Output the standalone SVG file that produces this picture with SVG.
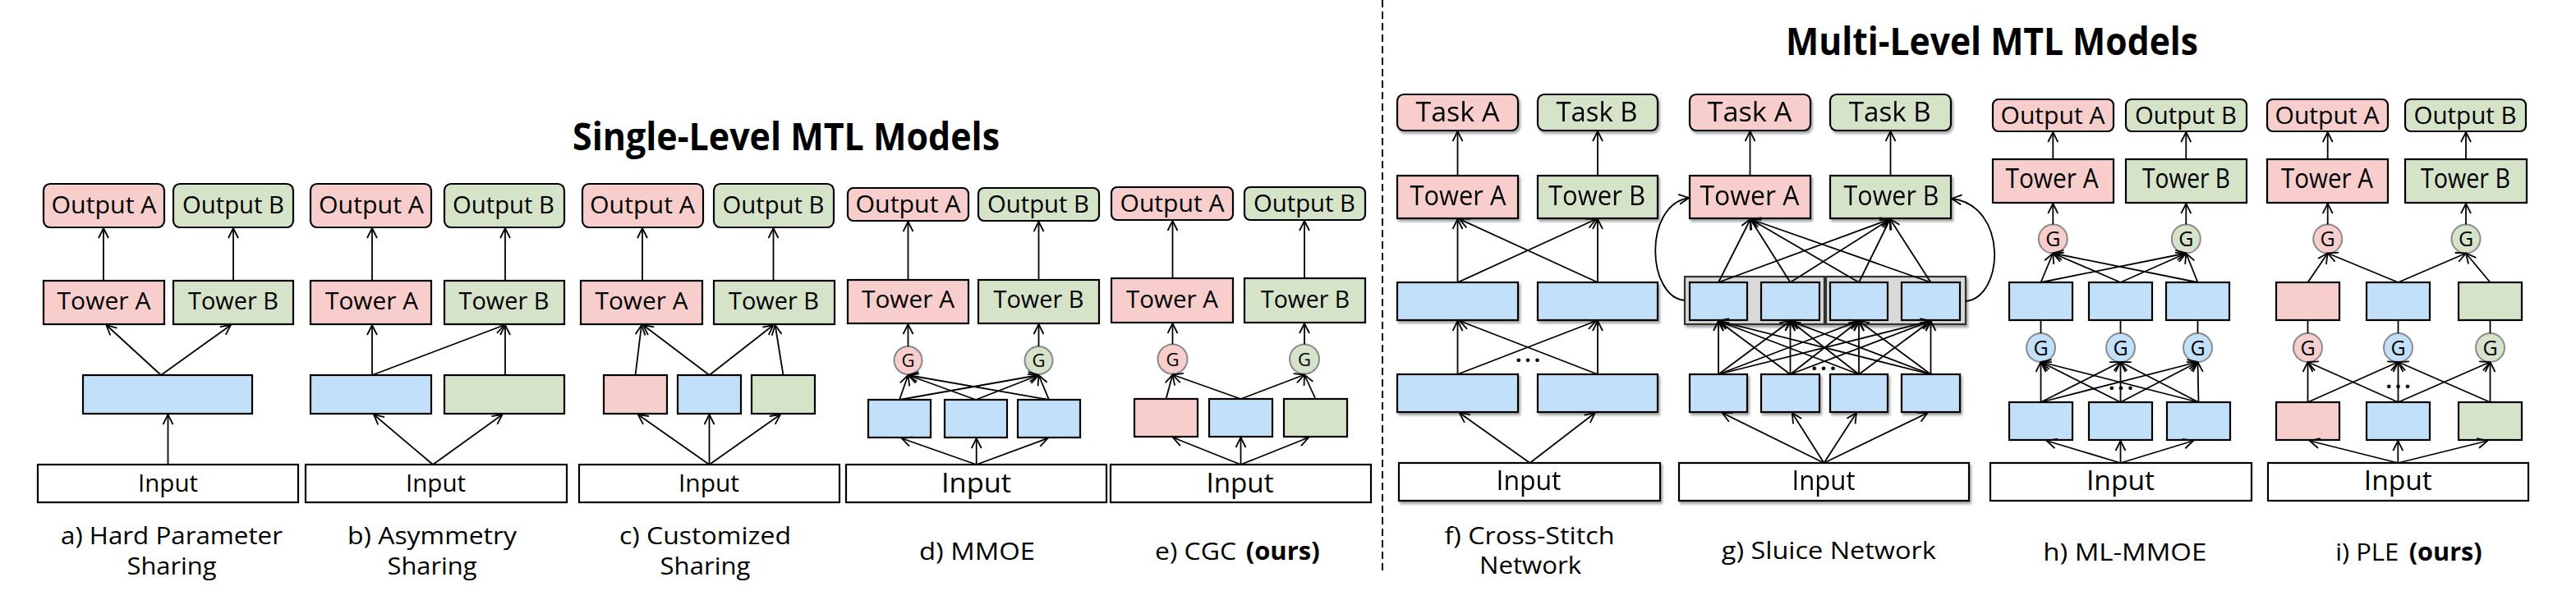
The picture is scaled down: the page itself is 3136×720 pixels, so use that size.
<svg xmlns="http://www.w3.org/2000/svg" width="3136" height="720" viewBox="0 0 3136 720">
<defs>
<marker id="ah" viewBox="0 0 14 14" refX="13" refY="7" markerWidth="14" markerHeight="14" markerUnits="userSpaceOnUse" orient="auto">
<path d="M1,1 L13,7 L1,13" fill="none" stroke="#000" stroke-width="1.8"/>
</marker>
<filter id="sh" x="-10%" y="-10%" width="130%" height="150%">
<feDropShadow dx="2" dy="3" stdDeviation="1.5" flood-color="#000" flood-opacity="0.35"/>
</filter>
<style>
.pk{fill:#F8CECC;stroke:#000;stroke-width:2.2}
.gn{fill:#D5E3C8;stroke:#000;stroke-width:2.2}
.bl{fill:#C2E0FA;stroke:#000;stroke-width:2.2}
.wh{fill:#fff;stroke:#000;stroke-width:2.2}
.fr{fill:#D9D9D9;stroke:#333;stroke-width:2.2}
.gpk{fill:#F8CECC;stroke:#8A8A8A;stroke-width:2}
.ggn{fill:#D5E3C8;stroke:#8A8A8A;stroke-width:2}
.gbl{fill:#C2E0FA;stroke:#8A8A8A;stroke-width:2}
.sh{filter:url(#sh)}
text{font-family:"Open Sans","Liberation Sans",sans-serif;fill:#000;text-anchor:middle}
.t28{font-size:29px}
.t30{font-size:30px}
.t32{font-size:32px}
.t33{font-size:33px}
.tg{font-size:22px}
.tg2{font-size:25px}
.cap{font-size:30px}
.ttl{font-size:46px;font-weight:bold}
.dots{font-size:26px;font-weight:bold;letter-spacing:4px}
.ar{fill:none;stroke:#000;stroke-width:1.8;marker-end:url(#ah)}
.pl{fill:none;stroke:#000;stroke-width:1.8}
</style>
</defs>
<rect width="3136" height="720" fill="#fff"/>

<g id="titles">
<text class="ttl" x="957" y="183" textLength="520" lengthAdjust="spacingAndGlyphs">Single-Level MTL Models</text>
<text class="ttl" x="2425" y="67" textLength="502" lengthAdjust="spacingAndGlyphs">Multi-Level MTL Models</text>
</g>
<line id="divider" x1="1683" y1="0" x2="1683" y2="700" stroke="#000" stroke-width="2" stroke-dasharray="9 5"/>

<!-- Panel a -->
<g id="a_outA"><rect class="pk" x="53" y="224" width="147" height="53" rx="8"/><text class="t28" x="126.5" y="260" textLength="128" lengthAdjust="spacingAndGlyphs">Output A</text></g>
<g id="a_outB"><rect class="gn" x="211" y="224" width="146" height="53" rx="8"/><text class="t28" x="284" y="260" textLength="124" lengthAdjust="spacingAndGlyphs">Output B</text></g>
<g id="a_towA"><rect class="pk" x="53" y="342" width="147" height="53"/><text class="t28" x="126.5" y="377" textLength="114" lengthAdjust="spacingAndGlyphs">Tower A</text></g>
<g id="a_towB"><rect class="gn" x="211" y="342" width="146" height="53"/><text class="t28" x="284" y="377" textLength="110" lengthAdjust="spacingAndGlyphs">Tower B</text></g>
<g id="a_shared"><rect class="bl" x="101" y="457" width="206" height="47"/></g>
<g id="a_input"><rect class="wh" x="46" y="566" width="317" height="46"/><text class="t28" x="204.5" y="599" textLength="73" lengthAdjust="spacingAndGlyphs">Input</text></g>
<g id="a_caption"><text class="cap" x="209" y="663" textLength="270" lengthAdjust="spacingAndGlyphs">a) Hard Parameter</text><text class="cap" x="209" y="700" textLength="109" lengthAdjust="spacingAndGlyphs">Sharing</text></g>

<!-- Panel b -->
<g id="b_outA"><rect class="pk" x="378" y="224" width="147" height="53" rx="8"/><text class="t28" x="452" y="260" textLength="128" lengthAdjust="spacingAndGlyphs">Output A</text></g>
<g id="b_outB"><rect class="gn" x="541" y="224" width="146" height="53" rx="8"/><text class="t28" x="613" y="260" textLength="124" lengthAdjust="spacingAndGlyphs">Output B</text></g>
<g id="b_towA"><rect class="pk" x="378" y="342" width="147" height="53"/><text class="t28" x="452.5" y="377" textLength="113" lengthAdjust="spacingAndGlyphs">Tower A</text></g>
<g id="b_towB"><rect class="gn" x="541" y="342" width="146" height="53"/><text class="t28" x="613.5" y="377" textLength="110" lengthAdjust="spacingAndGlyphs">Tower B</text></g>
<g id="b_shared"><rect class="bl" x="378" y="457" width="147" height="47"/></g>
<g id="b_taskB"><rect class="gn" x="541" y="457" width="146" height="47"/></g>
<g id="b_input"><rect class="wh" x="372" y="566" width="318" height="46"/><text class="t28" x="530.5" y="599" textLength="73" lengthAdjust="spacingAndGlyphs">Input</text></g>
<g id="b_caption"><text class="cap" x="526" y="663" textLength="206" lengthAdjust="spacingAndGlyphs">b) Asymmetry</text><text class="cap" x="526" y="700" textLength="109" lengthAdjust="spacingAndGlyphs">Sharing</text></g>

<!-- Panel c -->
<g id="c_outA"><rect class="pk" x="709" y="224" width="147" height="53" rx="8"/><text class="t28" x="782" y="260" textLength="128" lengthAdjust="spacingAndGlyphs">Output A</text></g>
<g id="c_outB"><rect class="gn" x="869" y="224" width="146" height="53" rx="8"/><text class="t28" x="941.5" y="260" textLength="124" lengthAdjust="spacingAndGlyphs">Output B</text></g>
<g id="c_towA"><rect class="pk" x="707" y="342" width="148" height="53"/><text class="t28" x="781" y="377" textLength="113" lengthAdjust="spacingAndGlyphs">Tower A</text></g>
<g id="c_towB"><rect class="gn" x="869" y="342" width="147" height="53"/><text class="t28" x="942" y="377" textLength="110" lengthAdjust="spacingAndGlyphs">Tower B</text></g>
<g id="c_expA"><rect class="pk" x="735" y="457" width="77" height="47"/></g>
<g id="c_expS"><rect class="bl" x="825" y="457" width="77" height="47"/></g>
<g id="c_expB"><rect class="gn" x="915" y="457" width="77" height="47"/></g>
<g id="c_input"><rect class="wh" x="705" y="566" width="317" height="46"/><text class="t28" x="863" y="599" textLength="74" lengthAdjust="spacingAndGlyphs">Input</text></g>
<g id="c_caption"><text class="cap" x="858.5" y="663" textLength="209" lengthAdjust="spacingAndGlyphs">c) Customized</text><text class="cap" x="858.5" y="700" textLength="110" lengthAdjust="spacingAndGlyphs">Sharing</text></g>

<!-- Panel d -->
<g id="d_outA"><rect class="pk" x="1032" y="229" width="147" height="40" rx="7"/><text class="t30" x="1105.5" y="258.5" textLength="128" lengthAdjust="spacingAndGlyphs">Output A</text></g>
<g id="d_outB"><rect class="gn" x="1191" y="229" width="147" height="40" rx="7"/><text class="t30" x="1264" y="258.5" textLength="124" lengthAdjust="spacingAndGlyphs">Output B</text></g>
<g id="d_towA"><rect class="pk" x="1032" y="341" width="147" height="53"/><text class="t30" x="1105.5" y="375" textLength="113" lengthAdjust="spacingAndGlyphs">Tower A</text></g>
<g id="d_towB"><rect class="gn" x="1191" y="341" width="147" height="53"/><text class="t30" x="1264.5" y="375" textLength="110" lengthAdjust="spacingAndGlyphs">Tower B</text></g>
<g id="d_gA"><circle class="gpk" cx="1105.5" cy="439" r="17"/><text class="tg" x="1105.5" y="447">G</text></g>
<g id="d_gB"><circle class="ggn" cx="1264.5" cy="439" r="17"/><text class="tg" x="1264.5" y="447">G</text></g>
<g id="d_exp1"><rect class="bl" x="1057" y="487" width="76" height="46"/></g>
<g id="d_exp2"><rect class="bl" x="1150" y="487" width="76" height="46"/></g>
<g id="d_exp3"><rect class="bl" x="1239" y="487" width="76" height="46"/></g>
<g id="d_input"><rect class="wh" x="1030" y="566" width="317" height="46"/><text class="t32" x="1188.5" y="600" textLength="85" lengthAdjust="spacingAndGlyphs">Input</text></g>
<g id="d_caption"><text class="cap" x="1189.5" y="682" textLength="141" lengthAdjust="spacingAndGlyphs">d) MMOE</text></g>

<!-- Panel e -->
<g id="e_outA"><rect class="pk" x="1353" y="228" width="148" height="40" rx="7"/><text class="t30" x="1427" y="258" textLength="127" lengthAdjust="spacingAndGlyphs">Output A</text></g>
<g id="e_outB"><rect class="gn" x="1515" y="228" width="147" height="40" rx="7"/><text class="t30" x="1588" y="258" textLength="124" lengthAdjust="spacingAndGlyphs">Output B</text></g>
<g id="e_towA"><rect class="pk" x="1353" y="339" width="148" height="54"/><text class="t30" x="1427" y="375" textLength="112" lengthAdjust="spacingAndGlyphs">Tower A</text></g>
<g id="e_towB"><rect class="gn" x="1515" y="339" width="147" height="54"/><text class="t30" x="1589" y="375" textLength="108" lengthAdjust="spacingAndGlyphs">Tower B</text></g>
<g id="e_gA"><circle class="gpk" cx="1427.5" cy="437.5" r="18"/><text class="tg" x="1427.5" y="445.5">G</text></g>
<g id="e_gB"><circle class="ggn" cx="1588" cy="437.5" r="18"/><text class="tg" x="1588" y="445.5">G</text></g>
<g id="e_expA"><rect class="pk" x="1381" y="486" width="77" height="46"/></g>
<g id="e_expS"><rect class="bl" x="1472" y="486" width="77" height="46"/></g>
<g id="e_expB"><rect class="gn" x="1563" y="486" width="77" height="46"/></g>
<g id="e_input"><rect class="wh" x="1352" y="566" width="317" height="46"/><text class="t32" x="1509.5" y="600" textLength="82" lengthAdjust="spacingAndGlyphs">Input</text></g>
<g id="e_caption"><text class="cap" y="682"><tspan x="1455.5" textLength="99" lengthAdjust="spacingAndGlyphs">e) CGC</tspan><tspan x="1561.7" font-weight="bold" textLength="90" lengthAdjust="spacingAndGlyphs">(ours)</tspan></text></g>

<!-- Panel f -->
<g id="f_taskA" class="sh"><rect class="pk" x="1701" y="115" width="147" height="44" rx="8"/><text class="t33" x="1774.5" y="147.5" textLength="102" lengthAdjust="spacingAndGlyphs">Task A</text></g>
<g id="f_taskB" class="sh"><rect class="gn" x="1872" y="115" width="146" height="44" rx="8"/><text class="t33" x="1944" y="147.5" textLength="99" lengthAdjust="spacingAndGlyphs">Task B</text></g>
<g id="f_towA" class="sh"><rect class="pk" x="1701" y="214" width="147" height="52"/><text class="t33" x="1775" y="250" textLength="117" lengthAdjust="spacingAndGlyphs">Tower A</text></g>
<g id="f_towB" class="sh"><rect class="gn" x="1872" y="214" width="146" height="52"/><text class="t33" x="1944" y="250" textLength="118" lengthAdjust="spacingAndGlyphs">Tower B</text></g>
<g id="f_upA" class="sh"><rect class="bl" x="1701" y="344" width="147" height="46"/></g>
<g id="f_upB" class="sh"><rect class="bl" x="1872" y="344" width="146" height="46"/></g>
<g id="f_loA" class="sh"><rect class="bl" x="1701" y="456" width="147" height="46"/></g>
<g id="f_loB" class="sh"><rect class="bl" x="1872" y="456" width="146" height="46"/></g>
<g id="f_input" class="sh"><rect class="wh" x="1703" y="564" width="318" height="46"/><text class="t32" x="1861" y="597" textLength="79" lengthAdjust="spacingAndGlyphs">Input</text></g>
<text class="dots" x="1862" y="441">...</text>
<g id="f_caption"><text class="cap" x="1862" y="662.5" textLength="207" lengthAdjust="spacingAndGlyphs">f) Cross-Stitch</text><text class="cap" x="1863" y="699" textLength="124" lengthAdjust="spacingAndGlyphs">Network</text></g>

<!-- Panel g -->
<g id="g_taskA" class="sh"><rect class="pk" x="2057" y="115" width="147" height="44" rx="8"/><text class="t33" x="2130" y="147.5" textLength="103" lengthAdjust="spacingAndGlyphs">Task A</text></g>
<g id="g_taskB" class="sh"><rect class="gn" x="2228" y="115" width="147" height="44" rx="8"/><text class="t33" x="2300.7" y="147.5" textLength="100" lengthAdjust="spacingAndGlyphs">Task B</text></g>
<g id="g_towA" class="sh"><rect class="pk" x="2057" y="214" width="147" height="52"/><text class="t33" x="2130" y="250" textLength="121" lengthAdjust="spacingAndGlyphs">Tower A</text></g>
<g id="g_towB" class="sh"><rect class="gn" x="2228" y="214" width="147" height="52"/><text class="t33" x="2302.5" y="250" textLength="116" lengthAdjust="spacingAndGlyphs">Tower B</text></g>
<g id="g_frameA" class="sh"><rect class="fr" x="2051" y="337" width="170" height="58"/></g>
<g id="g_frameB" class="sh"><rect class="fr" x="2223" y="337" width="170" height="58"/></g>
<g id="g_up1"><rect class="bl" x="2057" y="344" width="70" height="46"/></g>
<g id="g_up2"><rect class="bl" x="2144" y="344" width="71" height="46"/></g>
<g id="g_up3"><rect class="bl" x="2228" y="344" width="70" height="46"/></g>
<g id="g_up4"><rect class="bl" x="2315" y="344" width="71" height="46"/></g>
<g id="g_lo1" class="sh"><rect class="bl" x="2057" y="456" width="70" height="46"/></g>
<g id="g_lo2" class="sh"><rect class="bl" x="2144" y="456" width="71" height="46"/></g>
<g id="g_lo3" class="sh"><rect class="bl" x="2228" y="456" width="70" height="46"/></g>
<g id="g_lo4" class="sh"><rect class="bl" x="2315" y="456" width="71" height="46"/></g>
<g id="g_input" class="sh"><rect class="wh" x="2044" y="564" width="353" height="46"/><text class="t32" x="2220" y="597" textLength="77" lengthAdjust="spacingAndGlyphs">Input</text></g>
<text class="dots" x="2222" y="451">...</text>
<g id="g_caption"><text class="cap" x="2226.3" y="680.6" textLength="261" lengthAdjust="spacingAndGlyphs">g) Sluice Network</text></g>

<!-- Panel h -->
<g id="h_outA"><rect class="pk" x="2426" y="121" width="147" height="39" rx="7"/><text class="t30" x="2499" y="150.5" textLength="127" lengthAdjust="spacingAndGlyphs">Output A</text></g>
<g id="h_outB"><rect class="gn" x="2588" y="121" width="147" height="39" rx="7"/><text class="t30" x="2661" y="150.5" textLength="124" lengthAdjust="spacingAndGlyphs">Output B</text></g>
<g id="h_towA"><rect class="pk" x="2426" y="194" width="147" height="53"/><text class="t32" x="2498" y="228.6" textLength="113" lengthAdjust="spacingAndGlyphs">Tower A</text></g>
<g id="h_towB"><rect class="gn" x="2588" y="194" width="147" height="53"/><text class="t32" x="2661.5" y="228.6" textLength="107" lengthAdjust="spacingAndGlyphs">Tower B</text></g>
<g id="h_gA"><circle class="gpk" cx="2499.3" cy="291" r="17.5"/><text class="tg2" x="2499.3" y="300">G</text></g>
<g id="h_gB"><circle class="ggn" cx="2661.3" cy="291" r="17.5"/><text class="tg2" x="2661.3" y="300">G</text></g>
<g id="h_up1"><rect class="bl" x="2446" y="344" width="77" height="46"/></g>
<g id="h_up2"><rect class="bl" x="2543" y="344" width="77" height="46"/></g>
<g id="h_up3"><rect class="bl" x="2637" y="344" width="77" height="46"/></g>
<g id="h_g1"><circle class="gbl" cx="2484.5" cy="423.5" r="17.5"/><text class="tg2" x="2484.5" y="432.5">G</text></g>
<g id="h_g2"><circle class="gbl" cx="2581.5" cy="423.5" r="17.5"/><text class="tg2" x="2581.5" y="432.5">G</text></g>
<g id="h_g3"><circle class="gbl" cx="2675.5" cy="423.5" r="17.5"/><text class="tg2" x="2675.5" y="432.5">G</text></g>
<g id="h_lo1"><rect class="bl" x="2446" y="490" width="77" height="46"/></g>
<g id="h_lo2"><rect class="bl" x="2543" y="490" width="77" height="46"/></g>
<g id="h_lo3"><rect class="bl" x="2638" y="490" width="77" height="46"/></g>
<g id="h_input"><rect class="wh" x="2423" y="564" width="318" height="46"/><text class="t32" x="2581.5" y="597" textLength="83" lengthAdjust="spacingAndGlyphs">Input</text></g>
<text class="dots" x="2584" y="475">...</text>
<g id="h_caption"><text class="cap" x="2586.7" y="682.6" textLength="199" lengthAdjust="spacingAndGlyphs">h) ML-MMOE</text></g>

<!-- Panel i -->
<g id="i_outA"><rect class="pk" x="2760" y="121" width="147" height="39" rx="7"/><text class="t30" x="2833" y="150.5" textLength="127" lengthAdjust="spacingAndGlyphs">Output A</text></g>
<g id="i_outB"><rect class="gn" x="2928" y="121" width="147" height="39" rx="7"/><text class="t30" x="3001" y="150.5" textLength="125" lengthAdjust="spacingAndGlyphs">Output B</text></g>
<g id="i_towA"><rect class="pk" x="2760" y="194" width="147" height="53"/><text class="t32" x="2833" y="228.6" textLength="112" lengthAdjust="spacingAndGlyphs">Tower A</text></g>
<g id="i_towB"><rect class="gn" x="2928" y="194" width="148" height="53"/><text class="t32" x="3001.5" y="228.6" textLength="109" lengthAdjust="spacingAndGlyphs">Tower B</text></g>
<g id="i_gA"><circle class="gpk" cx="2833.7" cy="291" r="17.5"/><text class="tg2" x="2833.7" y="300">G</text></g>
<g id="i_gB"><circle class="ggn" cx="3002" cy="291" r="17.5"/><text class="tg2" x="3002" y="300">G</text></g>
<g id="i_upA"><rect class="pk" x="2771" y="344" width="77" height="46"/></g>
<g id="i_upS"><rect class="bl" x="2881" y="344" width="77" height="46"/></g>
<g id="i_upB"><rect class="gn" x="2993" y="344" width="77" height="46"/></g>
<g id="i_g1"><circle class="gpk" cx="2809.5" cy="423.5" r="17.5"/><text class="tg2" x="2809.5" y="432.5">G</text></g>
<g id="i_g2"><circle class="gbl" cx="2919.5" cy="423.5" r="17.5"/><text class="tg2" x="2919.5" y="432.5">G</text></g>
<g id="i_g3"><circle class="ggn" cx="3031.5" cy="423.5" r="17.5"/><text class="tg2" x="3031.5" y="432.5">G</text></g>
<g id="i_loA"><rect class="pk" x="2771" y="490" width="77" height="46"/></g>
<g id="i_loS"><rect class="bl" x="2881" y="490" width="77" height="46"/></g>
<g id="i_loB"><rect class="gn" x="2993" y="490" width="77" height="46"/></g>
<g id="i_input"><rect class="wh" x="2761" y="564" width="317" height="46"/><text class="t32" x="2919.3" y="597" textLength="83" lengthAdjust="spacingAndGlyphs">Input</text></g>
<text class="dots" x="2921.5" y="473">...</text>
<g id="i_caption"><text class="cap" y="682.6"><tspan x="2881.7" textLength="77" lengthAdjust="spacingAndGlyphs">i) PLE</tspan><tspan x="2977.2" font-weight="bold" textLength="89" lengthAdjust="spacingAndGlyphs">(ours)</tspan></text></g>

<g id="connectors">
<!-- a -->
<path class="ar" d="M126,342 V278"/><path class="ar" d="M284,342 V278"/>
<path class="ar" d="M196,457 L129.5,396"/><path class="ar" d="M196,457 L281,396"/>
<path class="ar" d="M204.5,566 V505"/>
<!-- b -->
<path class="ar" d="M453,342 V278"/><path class="ar" d="M615,342 V278"/>
<path class="ar" d="M453,457 V396"/><path class="ar" d="M453,457 L614,396"/><path class="ar" d="M615,457 V396"/>
<path class="ar" d="M527,566 L455,505"/><path class="ar" d="M527,566 L611.6,505"/>
<!-- c -->
<path class="ar" d="M782,342 V278"/><path class="ar" d="M941.5,342 V278"/>
<path class="ar" d="M773.5,457 L781,396"/><path class="ar" d="M863.5,457 L783,396"/><path class="ar" d="M863.5,457 L941.5,396"/><path class="ar" d="M953.5,457 L943.7,396"/>
<path class="ar" d="M863.5,566 L776.7,505"/><path class="ar" d="M863.5,566 V505"/><path class="ar" d="M863.5,566 L950,505"/>
<!-- d -->
<path class="ar" d="M1105.5,341 V270"/><path class="ar" d="M1264.5,341 V270"/>
<path class="ar" d="M1105.5,422 V395"/><path class="ar" d="M1264.5,422 V395"/>
<path class="ar" d="M1095,487 L1105.5,457"/><path class="ar" d="M1095,487 L1264.5,457"/>
<path class="ar" d="M1188,487 L1105.5,457"/><path class="ar" d="M1188,487 L1264.5,457"/>
<path class="ar" d="M1277,487 L1105.5,457"/><path class="ar" d="M1277,487 L1264.5,457"/>
<path class="ar" d="M1188.7,566 L1097.7,534"/><path class="ar" d="M1188.7,566 V534"/><path class="ar" d="M1188.7,566 L1275.5,534"/>
<!-- e -->
<path class="ar" d="M1427.5,339 V269"/><path class="ar" d="M1588,339 V269"/>
<path class="ar" d="M1427.5,419.5 V394"/><path class="ar" d="M1588,419.5 V394"/>
<path class="ar" d="M1419.5,486 L1427.5,456.5"/><path class="ar" d="M1510.5,486 L1427.5,456.5"/><path class="ar" d="M1510.5,486 L1588,456.5"/><path class="ar" d="M1601.5,486 L1588,456.5"/>
<path class="ar" d="M1510.5,566 L1428,533"/><path class="ar" d="M1510.5,566 V533"/><path class="ar" d="M1510.5,566 L1593,533"/>
<!-- f -->
<path class="ar" d="M1774.5,214 V160"/><path class="ar" d="M1945,214 V160"/>
<path class="ar" d="M1774.5,344 V267"/><path class="ar" d="M1774.5,344 L1943,267"/><path class="ar" d="M1945,344 V267"/><path class="ar" d="M1945,344 L1777,267"/>
<path class="ar" d="M1774.5,456 V391"/><path class="ar" d="M1774.5,456 L1943,391"/><path class="ar" d="M1945,456 V391"/><path class="ar" d="M1945,456 L1777,391"/>
<path class="ar" d="M1862.5,564 L1776.7,503"/><path class="ar" d="M1862.5,564 L1941.7,503"/>
<!-- g -->
<path class="ar" d="M2130.5,214 V160"/><path class="ar" d="M2301.5,214 V160"/>
<path class="ar" d="M2092,344 L2131,267"/><path class="ar" d="M2092,344 L2301,267"/>
<path class="ar" d="M2179.5,344 L2131,267"/><path class="ar" d="M2179.5,344 L2301,267"/>
<path class="ar" d="M2263,344 L2131,267"/><path class="ar" d="M2263,344 L2301,267"/>
<path class="ar" d="M2350.5,344 L2131,267"/><path class="ar" d="M2350.5,344 L2301,267"/>
<path class="ar" d="M2092,456 L2092,391"/><path class="ar" d="M2092,456 L2179.5,391"/><path class="ar" d="M2092,456 L2263,391"/><path class="ar" d="M2092,456 L2350.5,391"/>
<path class="ar" d="M2179.5,456 L2092,391"/><path class="ar" d="M2179.5,456 L2179.5,391"/><path class="ar" d="M2179.5,456 L2263,391"/><path class="ar" d="M2179.5,456 L2350.5,391"/>
<path class="ar" d="M2263,456 L2092,391"/><path class="ar" d="M2263,456 L2179.5,391"/><path class="ar" d="M2263,456 L2263,391"/><path class="ar" d="M2263,456 L2350.5,391"/>
<path class="ar" d="M2350.5,456 L2092,391"/><path class="ar" d="M2350.5,456 L2179.5,391"/><path class="ar" d="M2350.5,456 L2263,391"/><path class="ar" d="M2350.5,456 L2350.5,391"/>
<path class="ar" d="M2220.5,564 L2096.7,503"/><path class="ar" d="M2220.5,564 L2181.7,503"/><path class="ar" d="M2220.5,564 L2260,503"/><path class="ar" d="M2220.5,564 L2346.7,503"/>
<path class="ar" d="M2051,366 C2005,362 2000,250 2056,241"/>
<path class="ar" d="M2393,367 C2440,362 2445,250 2376,242"/>
<!-- h -->
<path class="ar" d="M2499.3,194 V161"/><path class="ar" d="M2661.3,194 V161"/>
<path class="ar" d="M2499.3,273.5 V248"/><path class="ar" d="M2661.3,273.5 V248"/>
<path class="ar" d="M2484.5,344 L2499.3,308.5"/><path class="ar" d="M2484.5,344 L2661.3,308.5"/>
<path class="ar" d="M2581.5,344 L2499.3,308.5"/><path class="ar" d="M2581.5,344 L2661.3,308.5"/>
<path class="ar" d="M2675.5,344 L2499.3,308.5"/><path class="ar" d="M2675.5,344 L2661.3,308.5"/>
<path class="pl" d="M2484.5,406 V390 M2581.5,406 V390 M2675.5,406 V390"/>
<path class="ar" d="M2484.5,490 L2484.5,441"/><path class="ar" d="M2484.5,490 L2581.5,441"/><path class="ar" d="M2484.5,490 L2675.5,441"/>
<path class="ar" d="M2581.5,490 L2484.5,441"/><path class="ar" d="M2581.5,490 L2581.5,441"/><path class="ar" d="M2581.5,490 L2675.5,441"/>
<path class="ar" d="M2676.5,490 L2484.5,441"/><path class="ar" d="M2676.5,490 L2581.5,441"/><path class="ar" d="M2676.5,490 L2675.5,441"/>
<path class="ar" d="M2581.5,564 L2491.7,537"/><path class="ar" d="M2581.5,564 V537"/><path class="ar" d="M2581.5,564 L2670,537"/>
<!-- i -->
<path class="ar" d="M2833.7,194 V161"/><path class="ar" d="M3002,194 V161"/>
<path class="ar" d="M2833.7,273.5 V248"/><path class="ar" d="M3002,273.5 V248"/>
<path class="ar" d="M2809.5,344 L2833.7,308.5"/><path class="ar" d="M2919.5,344 L2833.7,308.5"/><path class="ar" d="M2919.5,344 L3002,308.5"/><path class="ar" d="M3031.5,344 L3002,308.5"/>
<path class="pl" d="M2809.5,406 V390 M2919.5,406 V390 M3031.5,406 V390"/>
<path class="ar" d="M2809.5,490 L2809.5,441"/><path class="ar" d="M2809.5,490 L2919.5,441"/>
<path class="ar" d="M2919.5,490 L2809.5,441"/><path class="ar" d="M2919.5,490 L2919.5,441"/><path class="ar" d="M2919.5,490 L3031.5,441"/>
<path class="ar" d="M3031.5,490 L2919.5,441"/><path class="ar" d="M3031.5,490 L3031.5,441"/>
<path class="ar" d="M2919.3,564 L2811.7,537"/><path class="ar" d="M2919.3,564 V537"/><path class="ar" d="M2919.3,564 L3028.3,537"/>
</g>
</svg>
